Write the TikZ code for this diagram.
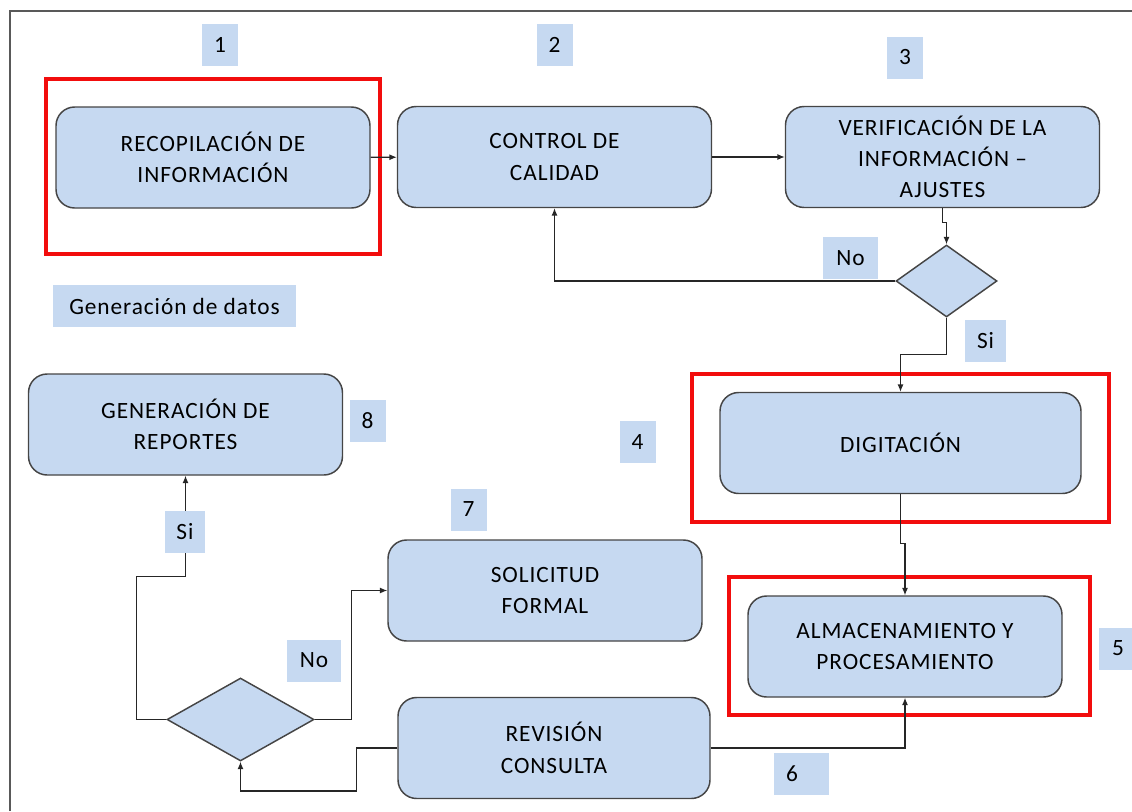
\documentclass[tikz,border=0pt]{standalone}
\usepackage{fontspec}
\setmainfont[LetterSpace=4]{Carlito}
\usepackage{tikz}
\usetikzlibrary{arrows.meta,shapes.geometric}

\definecolor{azul}{HTML}{C6D9F1}
\definecolor{borde}{HTML}{454545}
\definecolor{rojo}{HTML}{F20D0D}

\begin{document}
\begin{tikzpicture}[x=0.75pt, y=-0.75pt,
  font=\fontsize{17.5}{23.5}\selectfont,
  proc/.style={draw=borde, line width=1.1pt, fill=azul, rounded corners=14pt,
    minimum width=235.5pt, minimum height=75.75pt, align=center, inner sep=0pt},
  lbl/.style={fill=azul, inner sep=0pt, minimum width=27pt, minimum height=31.5pt},
  dec/.style={diamond, draw=borde, line width=1.1pt, fill=azul, inner sep=0pt},
  marco/.style={draw=rojo, line width=2.6pt},
  flecha/.style={draw=black!85, line width=0.9pt, -{Latex[length=5.5pt,width=4.5pt]}},
  linea/.style={draw=black!85, line width=0.9pt}]
\useasboundingbox (0,0) rectangle (1132,811);

% borde
\draw[black!65, line width=1.5pt] (10,811) -- (10,11) -- (1132,11);

% marcos rojos
\draw[marco] (46,79) rectangle (380,254);
\draw[marco] (692,374) rectangle (1109,522);
\draw[marco] (729,577) rectangle (1090,715);

% procesos (coordenadas)
\node[proc] (rec) at (213,157.5) {RECOPILACIÓN DE\\INFORMACIÓN};
\node[proc] (ctl) at (554.5,157) {CONTROL DE\\CALIDAD};
\node[proc] (ver) at (942.5,157) {VERIFICACIÓN DE LA\\INFORMACIÓN --\\AJUSTES};
\node[proc, minimum width=270.75pt] (dig) at (900.5,443) {DIGITACIÓN};
\node[proc] (alm) at (905,646.5) {ALMACENAMIENTO Y\\PROCESAMIENTO};
\node[proc, minimum width=234pt] (rev) at (554,748) {REVISIÓN\\CONSULTA};
\node[proc] (sol) at (545,590.5) {SOLICITUD\\FORMAL};
\node[proc] (gen) at (185.5,424.5) {GENERACIÓN DE\\REPORTES};

% decisiones
\node[dec, minimum width=75.75pt, minimum height=54pt] (dec1) at (946.5,281) {};
\node[dec, minimum width=110.25pt, minimum height=62.25pt] (dec2) at (240.5,719.5) {};

% conectores
\draw[flecha] (rec) -- (ctl);
\draw[flecha] (ctl) -- (ver);
\draw[flecha] (ver.south) -- ++(0,14) -| (dec1.north);
\draw[flecha] (dec1.west) -| (ctl.south);
\draw[flecha] (dec1.south) -- ++(0,37) -| (dig.north);
\draw[flecha] (dig.south) -- ++(0,49) -| (alm.north);
\draw[flecha] (rev.east) -| (alm.south);
\draw[flecha] (rev.west) -- ++(-41,0) -- ++(0,43) -| (dec2.south);
\draw[flecha] (dec2.east) -- ++(37,0) |- (sol.west);
\draw[flecha] (dec2.west) -- ++(-30,0) -- ++(0,-143) -| (gen.south);

% etiquetas
\node[lbl] (n1) at (220,45) {1};
\node[lbl] (n2) at (554.5,45) {2};
\node[lbl] (n3) at (905,57.5) {3};
\node[lbl] (n4) at (637.5,442) {4};
\node[lbl, minimum width=28pt] (n5) at (1118,648.5) {5};
\node[lbl, text width=23pt, align=left, inner xsep=9pt] (n6) at (801.5,774) {6};
\node[lbl] (n7) at (468.5,509.5) {7};
\node[lbl] (n8) at (367.5,420.5) {8};
\node[lbl, minimum width=41.25pt] (no1) at (850.5,258) {No};
\node[lbl, minimum width=30.75pt] (si1) at (985.5,340.5) {Si};
\node[lbl, minimum width=40.5pt] (no2) at (314,660.5) {No};
\node[lbl, minimum width=30pt] (si2) at (185,531.5) {Si};
\node[lbl, minimum width=182.25pt] (gd) at (174.5,306) {Generación de datos};
\end{tikzpicture}
\end{document}
